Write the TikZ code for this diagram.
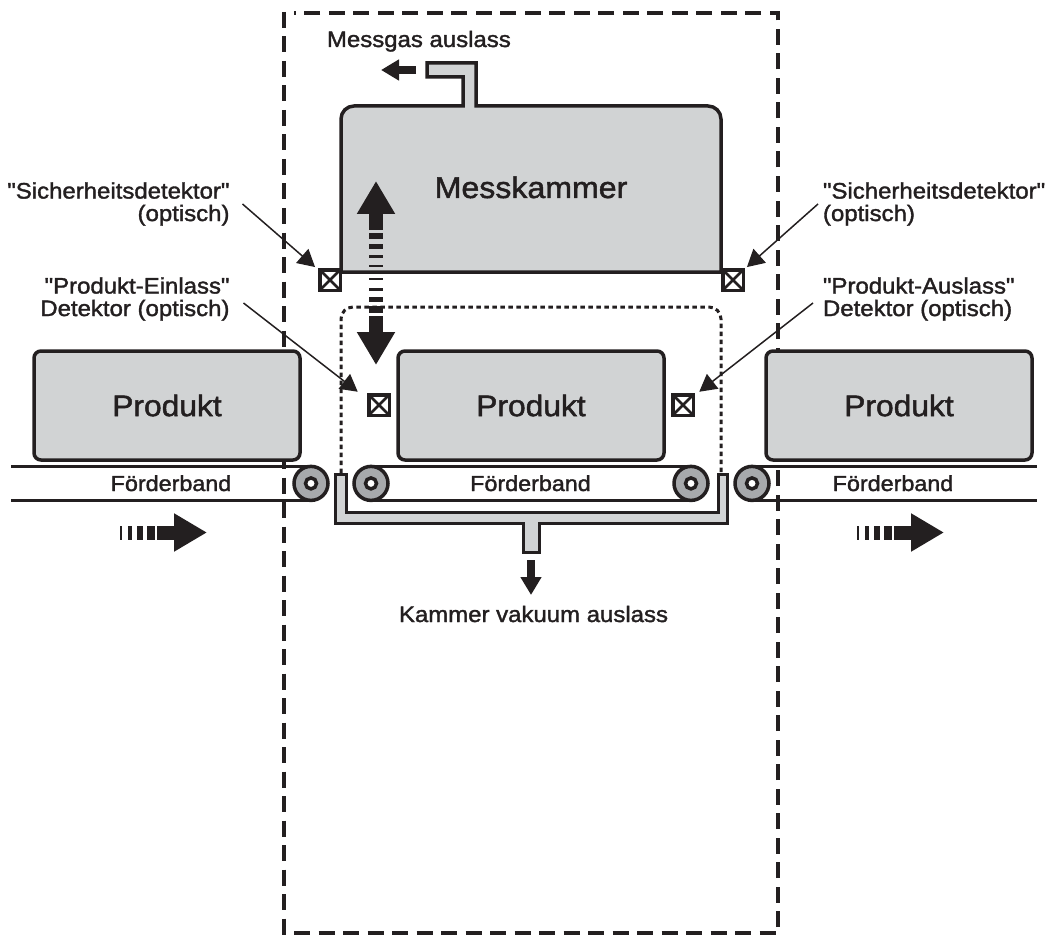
\documentclass[tikz,border=0pt]{standalone}
\usepackage{fontspec}
\setmainfont[Ligatures=TeXOff,FakeBold=1.6,FakeStretch=1.07]{Liberation Sans}
\usetikzlibrary{arrows.meta,positioning}
\definecolor{ink}{HTML}{231F20}
\definecolor{panel}{HTML}{D1D3D4}
\definecolor{rollergrey}{HTML}{A7A9AC}
\tikzset{
  every node/.style={text=ink,inner sep=0pt,outer sep=0pt},
  product/.style={draw=ink,fill=panel,line width=3.5pt,rounded corners=7pt,minimum width=266pt,minimum height=109pt,font=\fontsize{29.7}{36}\selectfont},
  shell/.style={draw=ink,fill=panel,line width=3.5pt},
  detector/.style={draw=ink,fill=white,line width=3.5pt,minimum size=20.5pt,path picture={\draw[ink,line width=2.5pt] (path picture bounding box.south west) -- (path picture bounding box.north east) (path picture bounding box.north west) -- (path picture bounding box.south east);}},
  roller/.style={circle,draw=ink,fill=rollergrey,line width=3.5pt,minimum size=34pt},
  hole/.style={circle,draw=ink,fill=white,line width=3.5pt,minimum size=11pt},
  belt/.style={draw=ink,line width=3.5pt},
  bandlabel/.style={anchor=base,font=\fontsize{21.8}{26}\selectfont},
  note/.style={font=\fontsize{22.4}{22.5}\selectfont},
  leader/.style={draw=ink,line width=1.5pt,-{Triangle[length=17pt,width=18.5pt]}},
  flow/.style={draw=ink,line width=8pt,-{Triangle[length=18pt,width=20pt]}},
  bigflow/.style={draw=ink,line width=14pt,-{Triangle[length=33pt,width=36pt]}},
}
\begin{document}
\begin{tikzpicture}[x=1pt,y=-1pt]
  \useasboundingbox (0,0) rectangle (1049,936);
  % Housing outline goes first, the products cover it.
  \draw[ink,line width=3.5pt,dash pattern=on 16pt off 8.5pt] (284,12) -- (284,933) -- (778,933) -- (778,13) -- (294,13);
  % Chamber with the gas outlet on top.
  \draw[shell] (341,272) [rounded corners=13pt] -- (341,106) [sharp corners] -- (463,106) -- (463,77) -- (427,77) -- (427,63) -- (476,63) -- (476,106) [rounded corners=13pt] -- (721,106) [sharp corners] -- (721,272) -- cycle;
  \node[anchor=base,font=\fontsize{30}{36}\selectfont] (chamber) at (531,198) {Messkammer};
  \node[note,anchor=base west] (gaslabel) at (327,47) {Messgas auslass};
  \coordinate (gasstart) at (416,70);
  \coordinate (gasend) at (381,70);
  \draw[flow] (gasstart) -- (gasend);
  % Opening of the chamber, dotted and open at the bottom.
  \draw[ink,line width=3pt,dash pattern=on 4.5pt off 3.5pt,rounded corners=12pt] (341,473) -- (341,307) -- (721,307) -- (721,473);
  % Products, the outer two hang on the middle one.
  \node[product] (prod2) at (531,405.5) {Produkt};
  \node[product,left=98pt of prod2] (prod1) {Produkt};
  \node[product,right=102pt of prod2] (prod3) {Produkt};
  % Tray under the middle belt.
  \draw[shell,line width=3pt] (335,474) -- (346,474) -- (346,512) -- (718,512) -- (718,474) -- (727,474) -- (727,523) -- (539,523) -- (539,552) -- (523,552) -- (523,523) -- (335,523) -- cycle;
  \coordinate (vacstart) at (531,560);
  \coordinate (vacend) at (531,595);
  \draw[flow] (vacstart) -- (vacend);
  \node[note,anchor=base] (vaclabel) at (533.5,622) {Kammer vakuum auslass};
  % Rollers and belts.
  \node[roller] (roller1) at (311,483.4) {};
  \node[roller] (roller2) at (371,483.4) {};
  \node[roller] (roller3) at (691,483.4) {};
  \node[roller] (roller4) at (752,483.4) {};
  \foreach \n in {1,2,3,4}
    \node[hole] at (roller\n) {};
  \coordinate (leftbelt top) at (11,466.4);
  \coordinate (leftbelt bot) at (11,500.4);
  \coordinate (rightbelt top) at (1037,466.4);
  \coordinate (rightbelt bot) at (1037,500.4);
  \draw[belt] (leftbelt top) -- (roller1.north);
  \draw[belt] (leftbelt bot) -- (roller1.south);
  \draw[belt] (roller2.north) -- (roller3.north);
  \draw[belt] (roller2.south) -- (roller3.south);
  \draw[belt] (roller4.north) -- (rightbelt top);
  \draw[belt] (roller4.south) -- (rightbelt bot);
  \node[bandlabel] (band1) at (171,491) {Förderband};
  \node[bandlabel] (band2) at (530.5,491) {Förderband};
  \node[bandlabel] (band3) at (893,491) {Förderband};
  % Travel of the chamber, striped towards the middle.
  \coordinate (liftup) at (376,230);
  \coordinate (lifttop) at (376,181);
  \coordinate (liftdown) at (376,316);
  \coordinate (liftbot) at (376,365);
  \draw[bigflow] (liftup) -- (lifttop);
  \draw[bigflow] (liftdown) -- (liftbot);
  \foreach \a/\b in {233/239,244/249,255/258,265/267,278/280,288/291,297/302,306/313}
    \fill[ink] (369,\a) rectangle (383,\b);
  % Travel of the belts.
  \foreach \d/\s in {0/a,737/b}{
    \coordinate (run\s) at (157+\d,532.5);
    \coordinate (runend\s) at (207+\d,532.5);
    \draw[bigflow] (run\s) -- (runend\s);
    \foreach \a/\b in {120/122,128/132,137/143,147/155}
      \fill[ink] (\a+\d,525.5) rectangle (\b+\d,539.5);
  }
  % Detectors and their notes.
  \node[detector] (safeL) at (330,280) {};
  \node[detector] (safeR) at (733,280) {};
  \node[detector] (inlet) at (379,405) {};
  \node[detector] (outlet) at (683,405) {};
  \node[note,align=right,anchor=east] (safeLnote) at (229.5,204) {"Sicherheitsdetektor"\\(optisch)};
  \node[note,align=left,anchor=west] (safeRnote) at (823,204) {"Sicherheitsdetektor"\\(optisch)};
  \node[note,align=right,anchor=east] (inletnote) at (229.5,299) {"Produkt-Einlass"\\Detektor (optisch)};
  \node[note,align=left,anchor=west] (outletnote) at (823,299) {"Produkt-Auslass"\\Detektor (optisch)};
  \draw[leader] ([xshift=13pt]safeLnote.east) -- ([xshift=-4.7pt,yshift=2.7pt]safeL.north west);
  \draw[leader] ([xshift=-5pt]safeRnote.west) -- ([xshift=3.7pt,yshift=2.7pt]safeR.north east);
  \draw[leader] ([xshift=14pt,yshift=-4pt]inletnote.east) -- ([xshift=-11pt,yshift=3pt]inlet.north west);
  \draw[leader] ([xshift=-10pt,yshift=-4pt]outletnote.west) -- ([xshift=6pt,yshift=3pt]outlet.north east);
\end{tikzpicture}
\end{document}
